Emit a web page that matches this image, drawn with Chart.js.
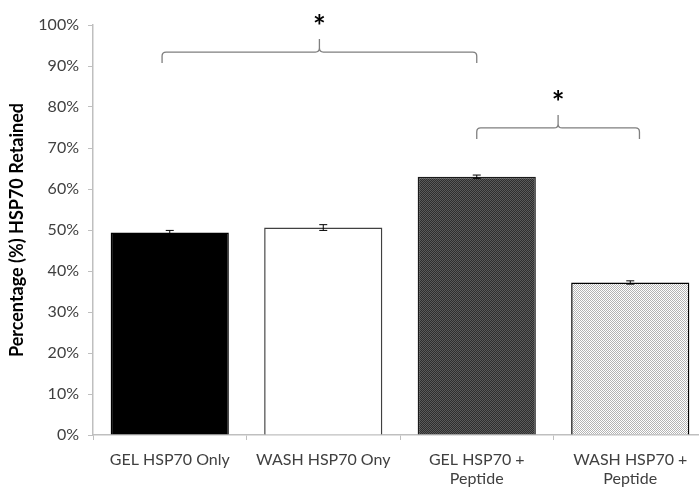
<!DOCTYPE html>
<html>
<head>
<meta charset="utf-8">
<script src="https://cdn.jsdelivr.net/npm/chart.js@4"></script>
<style>
  html, body { margin: 0; padding: 0; background: #fff; overflow: hidden; }
  #wrap { width: 707px; height: 487px; }
</style>
</head>
<body>
<div id="wrap"><canvas id="hspChart" width="707" height="487"></canvas></div>
<script>
// categorias y valores
const categories = ['GEL HSP70 Only', 'WASH HSP70 Ony', ['GEL HSP70 +', 'Peptide'], ['WASH HSP70 +', 'Peptide']];
const retained = [49.4, 50.6, 63.0, 37.2];
const errors = [0.5, 0.7, 0.4, 0.4];
const yTicks = [0, 10, 20, 30, 40, 50, 60, 70, 80, 90, 100];
// llaves de significancia: desde / hasta (indice de categoria) y nivel en %
const bracketFrom = [-0.05, 2];
const bracketTo = [2, 3.06];
const bracketLevel = [93.4, 74.9];

const textFont = 'Lato, "Liberation Sans", sans-serif';

function makePattern(a, b) {
    const c = document.createElement('canvas');
    c.width = 2; c.height = 2;
    const g = c.getContext('2d');
    g.fillStyle = a; g.fillRect(0, 0, 2, 2);
    g.fillStyle = b; g.fillRect(0, 0, 1, 1); g.fillRect(1, 1, 1, 1);
    return g.createPattern(c, 'repeat');
}

const ctx = document.getElementById('hspChart').getContext('2d');
const fills = ['#000000', '#ffffff', makePattern('#2e2e2e', '#5a5a5a'), makePattern('#ffffff', '#b4b4b4')];
const borders = ['#000000', '#404040', '#1a1a1a', '#000000'];

// barras de error
const errorBars = {
    id: 'errorBars',
    afterDatasetsDraw(chart) {
        const meta = chart.getDatasetMeta(0);
        const y = chart.scales.y;
        const c = chart.ctx;
        c.save();
        c.strokeStyle = '#000';
        c.lineWidth = 1;
        meta.data.forEach((bar, i) => {
            const hi = y.getPixelForValue(retained[i] + errors[i]);
            const lo = y.getPixelForValue(retained[i] - errors[i]);
            c.beginPath();
            c.moveTo(bar.x, hi); c.lineTo(bar.x, lo);
            c.moveTo(bar.x - 4, hi); c.lineTo(bar.x + 4, hi);
            c.moveTo(bar.x - 4, lo); c.lineTo(bar.x + 4, lo);
            c.stroke();
        });
        c.restore();
    }
};

// llaves con asterisco
const brackets = {
    id: 'brackets',
    afterDraw(chart) {
        const x = chart.scales.x, y = chart.scales.y;
        const c = chart.ctx;
        c.save();
        c.strokeStyle = '#7f7f7f';
        c.lineWidth = 1.3;
        bracketLevel.forEach((lvl, i) => {
            const x1 = x.getPixelForValue(bracketFrom[i]);
            const x2 = x.getPixelForValue(bracketTo[i]);
            const yy = y.getPixelForValue(lvl);
            const xm = (x1 + x2) / 2;
            const r = 4;
            c.beginPath();
            c.moveTo(x1, yy + 11);
            c.lineTo(x1, yy + r);
            c.quadraticCurveTo(x1, yy, x1 + r, yy);
            c.lineTo(xm - r, yy);
            c.quadraticCurveTo(xm, yy, xm, yy - r);
            c.lineTo(xm, yy - 13);
            c.moveTo(xm, yy - r);
            c.quadraticCurveTo(xm, yy, xm + r, yy);
            c.lineTo(x2 - r, yy);
            c.quadraticCurveTo(x2, yy, x2, yy + r);
            c.lineTo(x2, yy + 11);
            c.stroke();
            c.fillStyle = '#000';
            c.font = 'bold 30px ' + textFont;
            c.textAlign = 'center';
            c.textBaseline = 'middle';
            c.fillText('*', xm, yy - 25);
        });
        c.restore();
    }
};

new Chart(ctx, {
    type: 'bar',
    data: {
        labels: categories,
        datasets: [{
            data: retained,
            backgroundColor: fills,
            borderColor: borders,
            borderWidth: 1.5,
            categoryPercentage: 1,
            barPercentage: 0.77
        }]
    },
    options: {
        responsive: false,
        animation: false,
        layout: { padding: { top: 25, left: 0, right: 0, bottom: 0 } },
        plugins: {
            legend: { display: false },
            tooltip: { enabled: false }
        },
        scales: {
            x: {
                grid: { display: true, drawOnChartArea: false, offset: true, tickLength: 5, color: '#bfbfbf' },
                border: { color: '#bfbfbf', width: 1.5 },
                ticks: { color: '#404040', padding: 10, maxRotation: 0, font: { family: textFont, size: 16 } },
                afterFit(scale) { scale.height = 52; }
            },
            y: {
                min: 0,
                max: 100,
                afterBuildTicks(scale) { scale.ticks = yTicks.map(v => ({ value: v })); },
                grid: { display: true, drawOnChartArea: false, tickLength: 5, color: '#bfbfbf' },
                border: { color: '#bfbfbf', width: 1.5 },
                ticks: {
                    color: '#404040',
                    padding: 9,
                    font: { family: textFont, size: 16 },
                    callback: v => v + '%'
                },
                title: {
                    display: true,
                    text: 'Percentage (%) HSP70 Retained',
                    color: '#000',
                    padding: { top: 6, bottom: 4 },
                    font: { family: textFont, size: 18, weight: 'bold' }
                },
                afterFit(scale) { scale.width = 93; }
            }
        }
    },
    plugins: [errorBars, brackets]
});
</script>
</body>
</html>
